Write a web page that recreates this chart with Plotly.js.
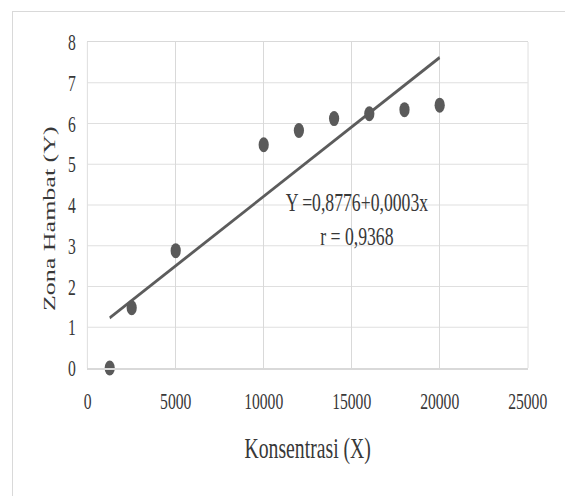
<!DOCTYPE html>
<html>
<head>
<meta charset="utf-8">
<script src="https://cdn.plot.ly/plotly-3.0.1.min.js"></script>
<style>
  html, body { margin: 0; padding: 0; background: #fff; overflow: hidden; width: 565px; height: 496px; }
  #frame { position: absolute; left: 12px; top: 11px; width: 600px; height: 600px; border: 1px solid #d9d9d9; }
  #plot { position: absolute; left: 0; top: 0; width: 831px; height: 496px; transform: scaleX(0.68); transform-origin: 0 0; }
</style>
</head>
<body>
<div id="frame"></div>
<div id="plot"></div>
<script>
// Data
const concX = [1250, 2500, 5000, 10000, 12000, 14000, 16000, 18000, 20000];
const zonaY = [0, 1.48, 2.88, 5.48, 5.83, 6.12, 6.24, 6.34, 6.45];
const trendX = [1250, 20000];
const trendY = [1.23, 7.62];
const xTicks = [0, 5000, 10000, 15000, 20000, 25000];
const yTicks = [0, 1, 2, 3, 4, 5, 6, 7, 8];
const xTitle = 'Konsentrasi (X)';
const yTitle = 'Zona Hambat (Y)';
const eqText = 'Y =0,8776+0,0003x<br>r = 0,9368';

const FONT = '"Liberation Serif", "Times New Roman", serif';
const GRID = '#d9d9d9';
const TXT = '#383838';

const traces = [
  {
    x: trendX, y: trendY, mode: 'lines', type: 'scatter',
    line: { color: '#5c5c5c', width: 3.2 }, hoverinfo: 'skip', cliponaxis: false
  },
  {
    x: concX, y: zonaY, mode: 'markers', type: 'scatter',
    marker: { color: '#5a5a5a', size: 15 }, cliponaxis: false
  }
];

const layout = {
  width: 831, height: 496,
  margin: { l: 129, r: 55, t: 42, b: 128 },
  paper_bgcolor: 'rgba(0,0,0,0)',
  plot_bgcolor: '#fff',
  showlegend: false,
  font: { family: FONT, color: TXT, size: 23 },
  xaxis: {
    range: [0, 25000], tickvals: xTicks, ticktext: xTicks.map(String),
    showgrid: true, gridcolor: GRID, gridwidth: 1.5,
    zeroline: false, showline: true, linecolor: GRID, linewidth: 1.5, mirror: true,
    ticks: '', ticklabelstandoff: 12,
    tickfont: { family: FONT, size: 23, color: TXT },
    title: { text: xTitle, font: { family: FONT, size: 29, color: TXT }, standoff: 24 },
    automargin: false, fixedrange: true
  },
  yaxis: {
    range: [0, 8], tickvals: yTicks, ticktext: yTicks.map(String),
    showgrid: true, gridcolor: GRID, gridwidth: 1,
    zeroline: false, showline: true, linecolor: GRID, linewidth: 1, mirror: true,
    ticks: '', ticklabelstandoff: 12,
    tickfont: { family: FONT, size: 23, color: TXT },
    automargin: false, fixedrange: true
  },
  annotations: [
    {
      x: 15300, y: 3.64, xref: 'x', yref: 'y', text: eqText, showarrow: false,
      align: 'center', xanchor: 'center', yanchor: 'middle',
      font: { family: FONT, size: 26, color: TXT }
    },
    {
      x: -0.088, y: 0.457, xref: 'paper', yref: 'paper', text: yTitle, showarrow: false,
      textangle: -90, xanchor: 'center', yanchor: 'middle',
      font: { family: FONT, size: 26, color: TXT }
    }
  ]
};

Plotly.newPlot('plot', traces, layout, { displayModeBar: false, staticPlot: true });
</script>
</body>
</html>
